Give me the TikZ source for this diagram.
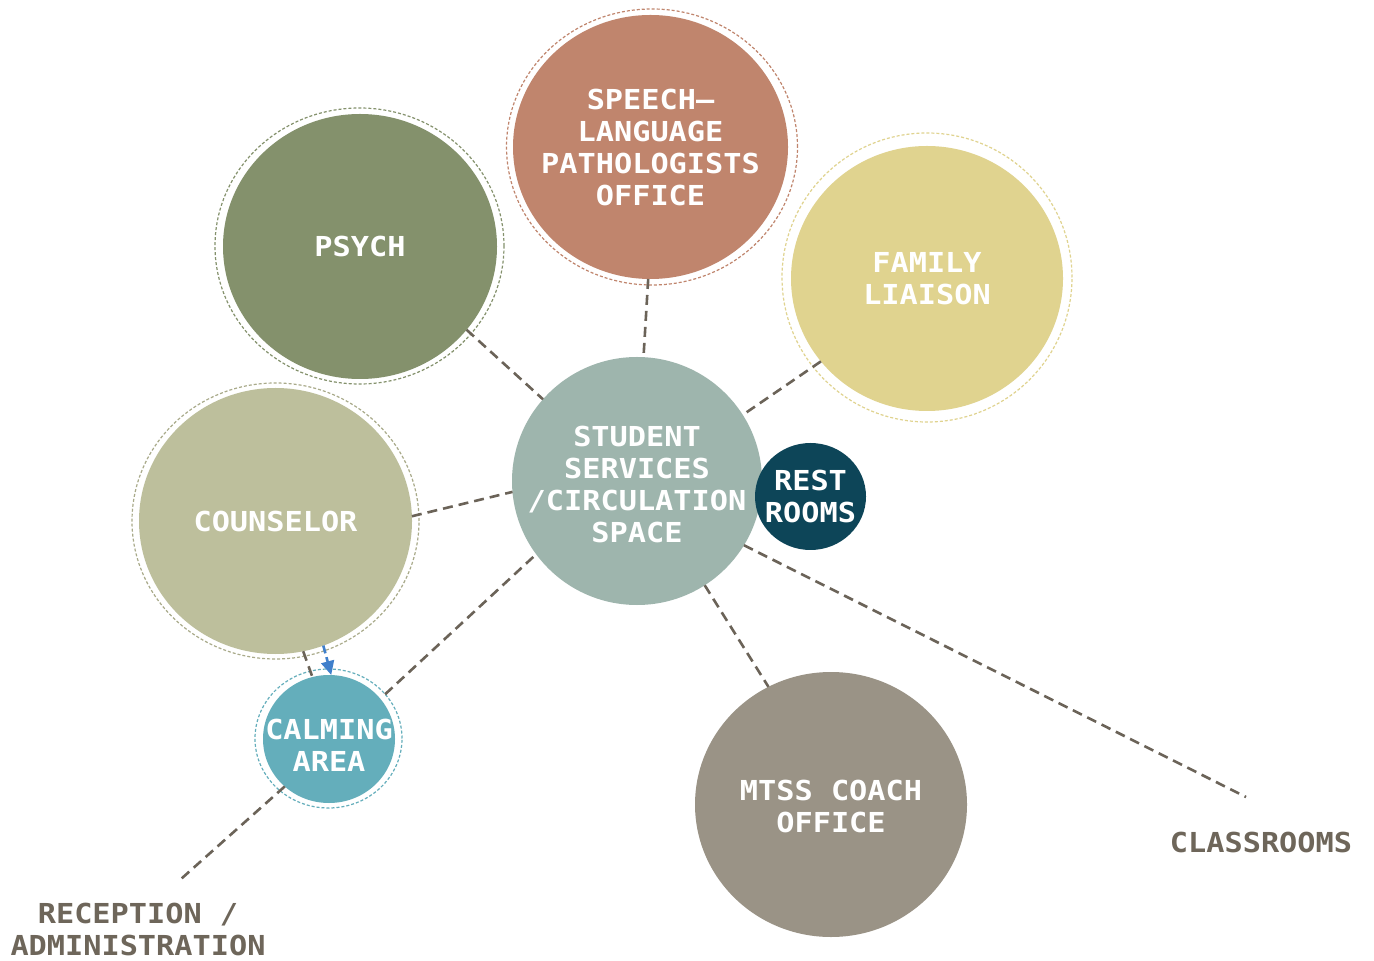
\documentclass[tikz,border=0pt]{standalone}
\usepackage{fontspec}
\setmonofont{DejaVu Sans Mono}[FakeStretch=1.1]
\usetikzlibrary{shapes.geometric,arrows.meta}
\definecolor{studc}{HTML}{9EB5AD}
\definecolor{restc}{HTML}{0D4558}
\definecolor{speechc}{HTML}{C0856D}
\definecolor{psychc}{HTML}{84916C}
\definecolor{familyc}{HTML}{E0D38F}
\definecolor{counsc}{HTML}{BDBF9C}
\definecolor{counsring}{HTML}{A9AA8A}
\definecolor{calmc}{HTML}{64AEBB}
\definecolor{mtssc}{HTML}{9A9386}
\definecolor{linkc}{HTML}{6B6358}
\definecolor{labc}{HTML}{6E665A}
\definecolor{arrowc}{HTML}{3F7FCB}
\newcommand{\bubfont}{\fontsize{13.75pt}{16pt}\selectfont\ttfamily\bfseries}
\tikzset{
  bub/.style={ellipse, fill=#1, inner sep=0pt, outer sep=0pt},
  lbl/.style={text=white, font=\bubfont, align=center, inner sep=0pt},
  ringo/.style={ellipse, draw=#1, dash pattern=on 1.5pt off 1pt, line width=0.6pt, inner sep=0pt, outer sep=0pt},
  big/.style={minimum width=137pt, minimum height=132.5pt},
  bigring/.style={minimum width=144.5pt, minimum height=138pt},
  link/.style={draw=linkc, line width=1.3pt, dash pattern=on 5pt off 3pt},
  lab/.style={text=labc, font=\bubfont, align=center, inner sep=0pt}
}
\begin{document}
\begin{tikzpicture}[x=0.5pt,y=-0.5pt]
\fill[white] (0,0) rectangle (1374,961);
\useasboundingbox (0,0) rectangle (1374,961);

% rings
\node[ringo=psychc, bigring] (psychring) at (359.5,246) {};
\node[ringo=speechc, bigring, minimum width=145.5pt] (speechring) at (652,147) {};
\node[ringo=familyc, minimum width=145pt, minimum height=144.5pt] (familyring) at (927,277.5) {};
\node[ringo=counsring, bigring, minimum width=143.5pt] (counsring) at (275.5,521) {};
\node[ringo=calmc, minimum width=73.5pt, minimum height=69.5pt] (calmring) at (328.5,738.5) {};

% bubbles
\node[bub=psychc, big, label={[lbl]center:{PSYCH}}] (psych) at (360,246.5) {};
\node[bub=speechc, big, minimum width=137.5pt, minimum height=132pt,
      label={[lbl]center:{SPEECH–\\LANGUAGE\\PATHOLOGISTS\\OFFICE}}] (speech) at (650.5,147) {};
\node[bub=familyc, big, minimum width=136pt, label={[lbl]center:{FAMILY\\LIAISON}}] (family) at (927,278.5) {};
\node[bub=counsc, big, minimum width=136.5pt, minimum height=133pt, label={[lbl]center:{COUNSELOR}}] (counselor) at (275.5,521) {};
\node[bub=mtssc, big, minimum width=136pt, label={[lbl, yshift=-1pt]center:{MTSS COACH\\OFFICE}}] (mtss) at (831,804.5) {};
\node[bub=studc, minimum width=125pt, minimum height=124pt,
      label={[lbl, yshift=-1.5pt]center:{STUDENT\\SERVICES\\/CIRCULATION\\SPACE}}] (student) at (637,481) {};
\node[bub=restc, minimum width=55.5pt, minimum height=53.5pt, label={[lbl]center:{REST\\ROOMS}}] (rest) at (810.5,496.5) {};
\node[bub=calmc, minimum width=66pt, minimum height=64pt, label={[lbl, yshift=-3pt]center:{CALMING\\AREA}}] (calming) at (329,739) {};

% outside labels
\node[lab] (classrooms) at (1261,842) {CLASSROOMS};
\node[lab] (reception) at (138,929.5) {RECEPTION /\\ADMINISTRATION};
\coordinate (clsend) at (1246,797);
\coordinate (recend) at (181,879);

% connectors
\draw[link] (psych.-38.7) -- (student.139.2);
\draw[link] (speech.-91.5) -- (student.87.2);
\draw[link] (family.218.1) -- (student.32.2);
\draw[link] (counselor.2) -- (student.185.4);
\draw[link] (calmring.38.8) -- (student.216.9);
\draw[link] (student.-57.7) -- (mtss.118.8);
\draw[link] (student.-31.3) -- (clsend);
\draw[link] (calming.227.9) -- (recend);
\draw[link] (counselor.-78) -- (calming.105.4);
\draw[draw=arrowc, line width=1.3pt, dash pattern=on 4pt off 2pt, -{Triangle[length=7pt,width=6.5pt]}] (counselor.-69.6) -- (calming.88.7);
\end{tikzpicture}
\end{document}
